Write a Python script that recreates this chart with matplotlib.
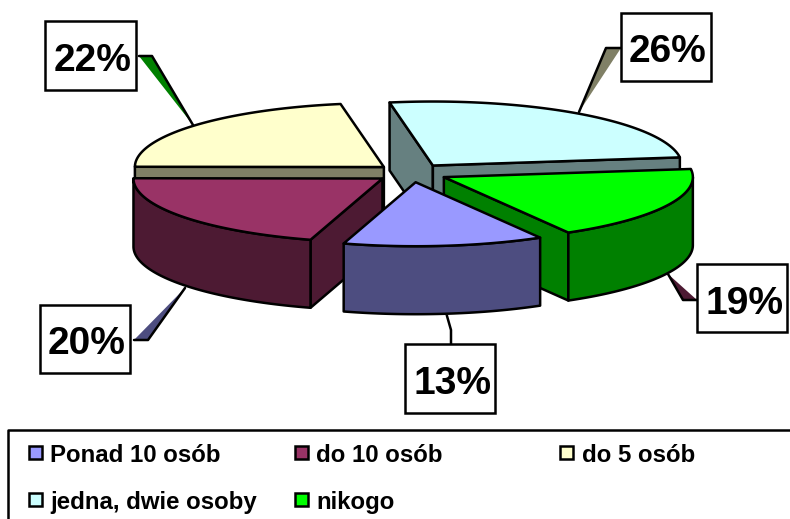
import numpy as np
import matplotlib
matplotlib.use("Agg")
import matplotlib.pyplot as plt
from matplotlib.patches import Polygon, Rectangle

categories = ["Ponad 10 osób", "do 10 osób", "do 5 osób", "jedna, dwie osoby", "nikogo"]
values = [13, 20.4, 22.15, 25.75, 18.7]
top_colors = ["#9999FF", "#993366", "#FFFFCC", "#CCFFFF", "#00FF00"]
side_colors = ["#4D4D80", "#4D1A33", "#808066", "#668080", "#008000"]
leader_colors = [None, "#4D4D80", "#008000", "#808066", "#4D1A33"]

# pie geometry (pixels)
START = 300.0
CX, CY, RX, RY, DEPTH = 411.5, 173.0, 249.0, 64.0, 68.0
EXPLODE = 0.145
LW = 1.8

fig = plt.figure(figsize=(7.9, 5.19), dpi=100)
ax = fig.add_axes([0, 0, 1, 1])
ax.set_xlim(0, 790)
ax.set_ylim(519, 0)
ax.axis("off")
FONT = "Liberation Sans"


def pt(c, t):
    r = np.radians(t)
    return np.column_stack([c[0] + RX * np.cos(r), c[1] - RY * np.sin(r)])


def poly(points, color, z, edge="black", lw=LW):
    ax.add_patch(Polygon(points, closed=True, facecolor=color, edgecolor=edge,
                         linewidth=lw, joinstyle="round", zorder=z))


# angles for each slice, clockwise from START
edges = START - np.cumsum([0] + values) * 3.6
slices = {}
for i, v in enumerate(values):
    a0, a1 = edges[i], edges[i + 1]
    mid = np.radians((a0 + a1) / 2)
    c = (CX + EXPLODE * RX * np.cos(mid), CY - EXPLODE * RY * np.sin(mid))
    slices[i] = (a0, a1, c)

# painter's order: back to front
order = [3, 2, 4, 1, 0]
for n, i in enumerate(order):
    a0, a1, c = slices[i]
    z = 2 + n
    down = np.array([0, DEPTH])
    # visible cut faces
    for a, vis in ((a0, np.cos(np.radians(a0)) < 0), (a1, np.cos(np.radians(a1)) > 0)):
        if vis:
            p = pt(c, a)[0]
            poly([c, p, p + down, np.array(c) + down], side_colors[i], z)
    # outer wall: only the part of the rim in the front half
    ts = np.linspace(a0, a1, 200)
    front = ts[np.sin(np.radians(ts)) <= 0]
    if len(front) > 1:
        rim = pt(c, front)
        poly(np.vstack([rim, (rim + down)[::-1]]), side_colors[i], z)
    # top face
    poly(np.vstack([[c], pt(c, ts)]), top_colors[i], z)

# leader lines
leaders = {
    1: [(185, 288), (148, 340), (134, 340)],
    2: [(193, 125), (152, 56), (139, 56)],
    3: [(579, 112), (606, 48), (621, 48)],
    4: [(668, 274), (683, 300), (697, 300)],
}
for i, pts in leaders.items():
    ax.add_patch(Polygon(pts, closed=True, facecolor=leader_colors[i], edgecolor="none", zorder=1))
    ax.plot(*zip(*pts), color="black", lw=LW, zorder=1.5, solid_capstyle="round")
ax.plot([447, 451, 451], [316, 330, 344], color="black", lw=LW, zorder=1.5)

# percentage labels
boxes = {0: (405, 344, 495, 413), 1: (40, 305, 130, 373), 2: (45, 21, 136, 90),
         3: (621, 13, 711, 81), 4: (697, 264, 787, 332)}
for i, (x0, y0, x1, y1) in boxes.items():
    ax.add_patch(Rectangle((x0, y0), x1 - x0, y1 - y0, facecolor="white",
                           edgecolor="black", linewidth=LW, zorder=10))
    ax.text((x0 + x1) / 2 + 2, (y0 + y1) / 2 + 1.5, f"{values[i]:.0f}%", ha="center", va="center_baseline",
            fontsize=28, fontweight="bold", family=FONT, zorder=11)

# legend
ax.plot([800, 8, 8], [430, 430, 530], color="black", lw=LW, zorder=10, clip_on=True)
legend_pos = [(28, 445), (294, 445), (559, 445), (28, 492), (294, 492)]
for i, (x, y) in enumerate(legend_pos):
    ax.add_patch(Rectangle((x + 0.5, y + 0.5), 13, 13, facecolor=top_colors[i],
                           edgecolor="black", linewidth=LW, zorder=10))
    ax.text(x + 22.5, y + 17, categories[i], ha="left", va="baseline",
            fontsize=17.25, fontweight="bold", family=FONT, zorder=11)

fig.savefig("out.png", dpi=100)
